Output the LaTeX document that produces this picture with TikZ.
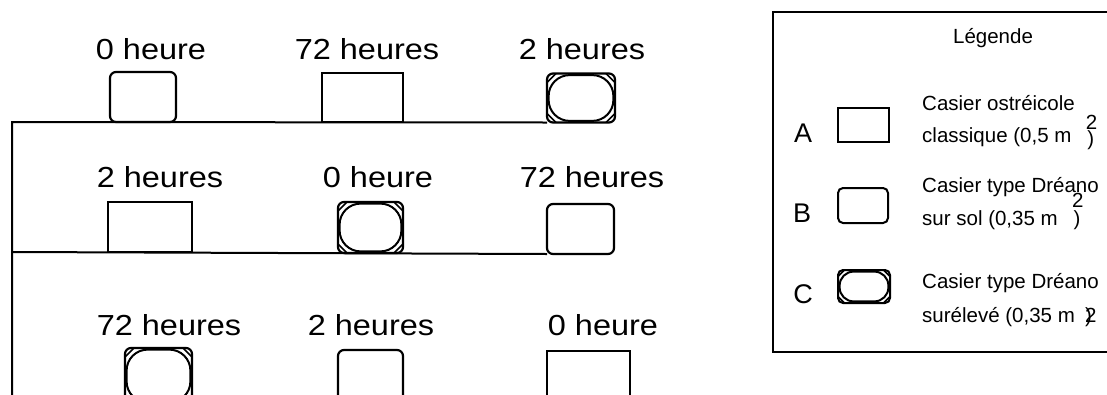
\documentclass[tikz,border=0pt]{standalone}
\usepackage{fontspec}
\setmainfont{Liberation Sans}
\newfontfamily\labfont[FakeStretch=1.12]{Liberation Sans}
\usetikzlibrary{calc}
\tikzset{
  lab/.style={font={\labfont\fontsize{29}{29}\selectfont}, anchor=base, inner sep=0pt},
  leg/.style={font={\fontsize{20.5}{20.5}\selectfont}, anchor=base west, inner sep=0pt},
  legtitle/.style={font={\fontsize{20.5}{20.5}\selectfont}, anchor=base, inner sep=0pt},
  letter/.style={font={\fontsize{27}{27}\selectfont}, anchor=base, inner sep=0pt},
  abox/.style={draw, line width=2.2pt, inner sep=0pt, outer sep=0pt},
  bbox/.style={abox, rounded corners=6pt},
  cbox/.style 2 args={bbox, path picture={
      \draw[line width=2pt, rounded corners=#2]
        ($(path picture bounding box.north west)+(1.6pt,-1.6pt)$) rectangle
        ($(path picture bounding box.south east)+(-1.6pt,1.6pt)$);
      \draw[line width=1.6pt, rounded corners=0pt]
        ($(path picture bounding box.north west)+(#1,0pt)$) -- ($(path picture bounding box.north west)+(0pt,-#1)$)
        ($(path picture bounding box.north east)+(-#1,0pt)$) -- ($(path picture bounding box.north east)+(0pt,-#1)$)
        ($(path picture bounding box.south west)+(#1,0pt)$) -- ($(path picture bounding box.south west)+(0pt,#1)$)
        ($(path picture bounding box.south east)+(-#1,0pt)$) -- ($(path picture bounding box.south east)+(0pt,#1)$);
    }},
  frameline/.style={line width=2pt}
}
\begin{document}
\begin{tikzpicture}[x=1pt,y=-1pt]
\useasboundingbox (0,0) rectangle (1107,394);
\fill[white] (0,0) rectangle (1107,394);
\clip (0,0) rectangle (1107,394);

% ---- row 1
\node[lab] (l11) at (151,59) {0 heure};
\node[lab] (l12) at (367,59) {72 heures};
\node[lab] (l13) at (582,59) {2 heures};
\node[bbox, minimum width=66pt, minimum height=50pt] (r1b) at (143,97) {};
\node[abox, minimum width=81pt, minimum height=49pt] (r1a) at (362.5,97.5) {};
\node[cbox={9pt}{21pt}, minimum width=68pt, minimum height=49pt] (r1c) at (581,98) {};

% ---- row 2
\node[lab] (l21) at (160,187) {2 heures};
\node[lab] (l22) at (378,187) {0 heure};
\node[lab] (l23) at (592,187) {72 heures};
\node[abox, minimum width=84pt, minimum height=50pt] (r2a) at (150,227) {};
\node[cbox={9pt}{21pt}, minimum width=65pt, minimum height=51pt] (r2c) at (370.5,227.5) {};
\node[bbox, minimum width=67pt, minimum height=50pt] (r2b) at (580.5,229) {};

% ---- row 3 (cut by the lower edge)
\node[lab] (l31) at (169,335) {72 heures};
\node[lab] (l32) at (371,335) {2 heures};
\node[lab] (l33) at (603,335) {0 heure};
\node[cbox={9pt}{21pt}, minimum width=67pt, minimum height=56pt] (r3c) at (158.5,376) {};
\node[bbox, minimum width=65pt, minimum height=56pt] (r3b) at (370.5,378) {};
\node[abox, minimum width=83pt, minimum height=56pt] (r3a) at (588.5,379) {};

% ---- frame lines
\coordinate (fb) at (12,400);
\coordinate (f1) at (12,122);
\coordinate (f2) at (12,252);
\draw[frameline] (fb) -- (f1) -- (r1c.south west);
\draw[frameline] (f2) -- (r2b.south west);

% ---- legend
\coordinate (g1) at (1112,12);
\coordinate (g2) at (773,12);
\coordinate (g3) at (773,352);
\coordinate (g4) at (1112,352);
\draw[frameline] (g1) -- (g2) -- (g3) -- (g4);
\node[legtitle] (gt) at (993,43) {Légende};

\node[letter] (ka) at (803,142) {A};
\node[letter] (kb) at (802,222) {B};
\node[letter] (kc) at (803,303) {C};
\node[abox, line width=2pt, minimum width=51pt, minimum height=34pt] (sa) at (863.5,125) {};
\node[bbox, line width=2pt, rounded corners=5pt, minimum width=50pt, minimum height=35pt] (sb) at (863,205.5) {};
\node[cbox={6.5pt}{14pt}, line width=2pt, rounded corners=5pt, minimum width=52pt, minimum height=33pt] (sc) at (864,286.5) {};

\node[leg] (ta1) at (922,110) {Casier ostréicole};
\node[leg] (ta2) at (922,142) {classique (0,5 m\hspace{.7em}\rlap{\raisebox{.6em}{2}}\hspace{1.5pt}\raisebox{-3pt}{)}};
\node[leg] (tb1) at (922,192) {Casier type Dréano};
\node[leg] (tb2) at (922,225) {sur sol (0,35 m\hspace{.7em}\rlap{\raisebox{.85em}{2}}\hspace{1.5pt})};
\node[leg] (tc1) at (922,288) {Casier type Dréano};
\node[leg] (tc2) at (922,322) {surélevé (0,35 m\hspace{.5em}\rlap{)}2};
\end{tikzpicture}
\end{document}
